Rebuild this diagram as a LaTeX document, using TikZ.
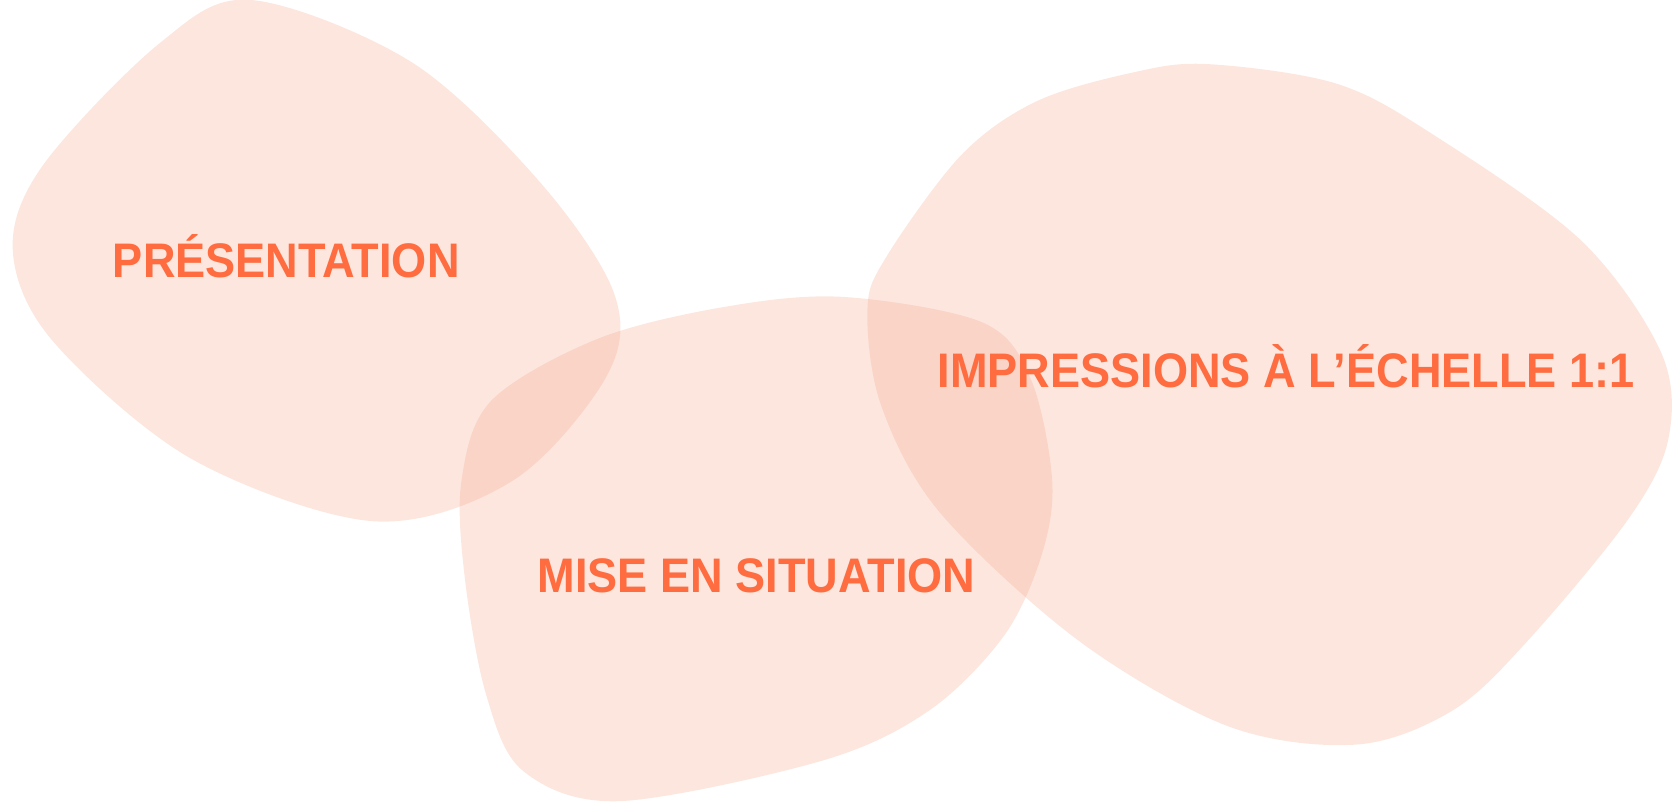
\documentclass[tikz,border=0pt]{standalone}
\usepackage{fontspec}
\setmainfont{Liberation Sans}
\newfontfamily\lblfont[FakeStretch=0.93]{Liberation Sans}
\usepackage{xcolor}
\definecolor{blobfill}{RGB}{244,166,137}
\definecolor{labelorange}{RGB}{255,108,64}

\begin{document}
\begin{tikzpicture}[x=0.010682cm, y=-0.010682cm,
  blob/.style={fill=blobfill, fill opacity=0.28, draw=none},
  lbl/.style={text=labelorange, anchor=base, inner sep=0pt, font=\lblfont\fontsize{13.8}{16}\selectfont\bfseries}]
\useasboundingbox (0, 0) rectangle (1568, 752);
\fill [blob] plot [smooth cycle, tension=0.55] coordinates {(235, 0) (150, 40) (40, 155) (12, 235) (50, 320) (180, 430) (350, 488) (480, 450) (568, 352) (575, 275) (505, 170) (385, 58)};
\fill [blob] plot [smooth cycle, tension=0.55] coordinates {(790, 278) (920, 302) (965, 355) (985, 450) (975, 520) (940, 595) (870, 665) (770, 712) (580, 750) (490, 722) (455, 650) (435, 540) (432, 450) (460, 375) (560, 317) (680, 287)};
\fill [blob] plot [smooth cycle, tension=0.55] coordinates {(1130, 60) (1250, 78) (1340, 125) (1480, 225) (1555, 330) (1562, 410) (1525, 485) (1430, 600) (1360, 665) (1270, 697) (1150, 680) (1010, 600) (880, 480) (825, 380) (812, 290) (830, 240) (900, 145) (970, 95) (1060, 68)};
\node [lbl] (presentation) at (268, 260) {PRÉSENTATION};
\node [lbl] (situation) at (708, 555) {MISE EN SITUATION};
\node [lbl] (impressions) at (1204, 363) {IMPRESSIONS À L’ÉCHELLE 1:1};
\end{tikzpicture}
\end{document}
